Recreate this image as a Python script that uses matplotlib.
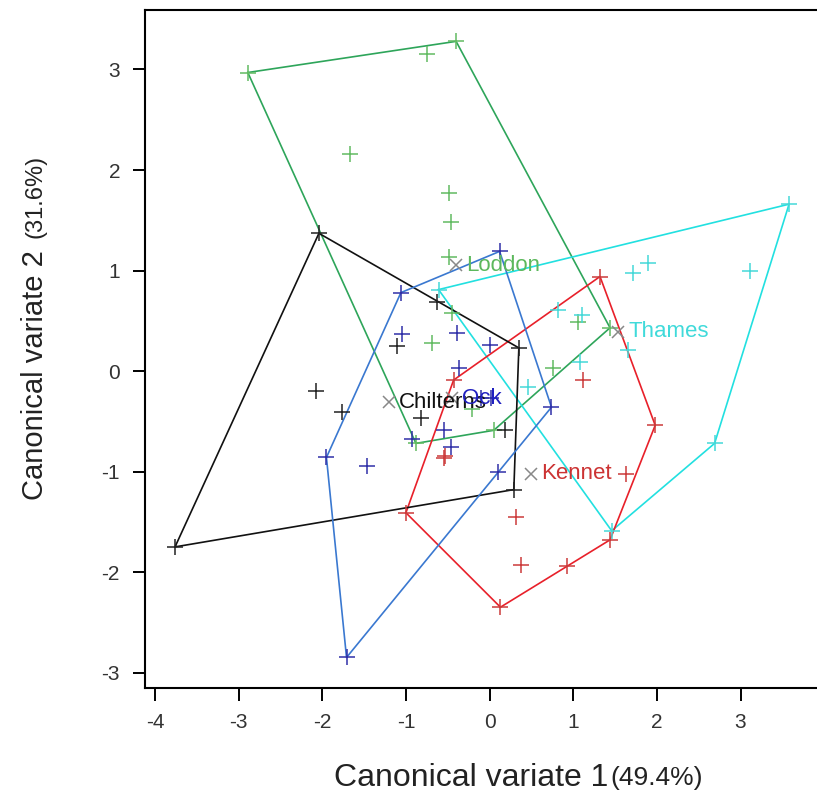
import matplotlib
matplotlib.use("Agg")
import matplotlib.pyplot as plt

plt.rcParams["font.family"] = ["Liberation Sans", "DejaVu Sans"]

# canonical variate scores per group (CV1, CV2)
loddon_x = [-2.89, -0.40, 1.44, 0.05, -0.88, -0.75, -1.67, -0.48, -0.46, -0.49,
            -0.45, -0.69, 0.76, 1.06, -0.21]
loddon_y = [2.97, 3.28, 0.43, -0.59, -0.72, 3.15, 2.16, 1.77, 1.48, 1.13,
            0.58, 0.28, 0.03, 0.49, -0.38]

thames_x = [-0.61, 3.58, 2.69, 1.46, 1.71, 1.89, 3.11, 1.65, 1.08, 0.46, 0.82, 1.10]
thames_y = [0.81, 1.66, -0.72, -1.59, 0.98, 1.07, 1.00, 0.21, 0.09, -0.16, 0.61, 0.56]

kennet_x = [1.32, 1.98, 1.44, 0.13, -1.00, -0.43, 1.63, 0.32, 0.37, 0.92, 1.12, -0.55, -0.53]
kennet_y = [0.94, -0.54, -1.68, -2.35, -1.41, -0.09, -1.02, -1.45, -1.93, -1.94, -0.09, -0.87, -0.85]

chilterns_x = [-2.04, 0.35, 0.29, -3.76, -2.07, -1.76, -0.82, -1.11, -0.63, 0.19]
chilterns_y = [1.37, 0.23, -1.18, -1.75, -0.20, -0.41, -0.47, 0.25, 0.69, -0.59]

ock_x = [0.12, 0.74, -1.71, -1.95, -1.06, -1.46, -1.05, -0.39, -0.37, -0.54,
         -0.46, -0.93, 0.01, 0.10, -0.10, 0.02]
ock_y = [1.19, -0.36, -2.85, -0.86, 0.78, -0.95, 0.37, 0.38, 0.03, -0.59,
         -0.76, -0.68, 0.26, -1.00, -0.27, -0.27]

# group means
group_names = ["Loddon", "Thames", "Kennet", "Chilterns", "Ock"]
mean_x = [-0.40, 1.54, 0.50, -1.20, -0.45]
mean_y = [1.05, 0.39, -1.02, -0.31, -0.27]

x_ticks = [-4, -3, -2, -1, 0, 1, 2, 3]
y_ticks = [-3, -2, -1, 0, 1, 2, 3]


def convex_hull(xs, ys):
    pts = sorted(set(zip(xs, ys)))

    def cross(o, a, b):
        return (a[0] - o[0]) * (b[1] - o[1]) - (a[1] - o[1]) * (b[0] - o[0])

    lower, upper = [], []
    for p in pts:
        while len(lower) >= 2 and cross(lower[-2], lower[-1], p) <= 0:
            lower.pop()
        lower.append(p)
    for p in reversed(pts):
        while len(upper) >= 2 and cross(upper[-2], upper[-1], p) <= 0:
            upper.pop()
        upper.append(p)
    hull = lower[:-1] + upper[:-1]
    hull.append(hull[0])
    return [p[0] for p in hull], [p[1] for p in hull]


groups = [
    (loddon_x, loddon_y, "#2ea55a", "#62bb62", "#5cb85c"),
    (thames_x, thames_y, "#22e0e0", "#45d8d8", "#40dada"),
    (kennet_x, kennet_y, "#e8202a", "#cc3a3a", "#cc3333"),
    (chilterns_x, chilterns_y, "#111111", "#222222", "#111111"),
    (ock_x, ock_y, "#3a78d0", "#3030a8", "#2020c0"),
]

fig = plt.figure(figsize=(8.17, 8.0), dpi=100)
ax = fig.add_axes([145 / 817, 112 / 800, (820 - 145) / 817, (688 - 10) / 800])

for (gx, gy, hull_col, pt_col, txt_col), name, mx, my in zip(groups, group_names, mean_x, mean_y):
    hx, hy = convex_hull(gx, gy)
    ax.plot(hx, hy, color=hull_col, lw=1.2, zorder=2)
    ax.plot(gx, gy, ls="none", marker="+", ms=11, mew=1.1, color=pt_col, zorder=3)
    ax.plot([mx], [my], ls="none", marker="x", ms=8, mew=1.1, color="#888888", zorder=4)
    ax.annotate(name, (mx, my), xytext=(7, 0), textcoords="offset points",
                va="center", ha="left", fontsize=16, color=txt_col, zorder=5)

ax.set_xlim(-4.119, 3.95)
ax.set_ylim(-3.154, 3.592)
ax.set_xticks(x_ticks)
ax.set_yticks(y_ticks)
ax.set_xticklabels([str(t) for t in x_ticks])
ax.set_yticklabels([str(t) for t in y_ticks])
ax.tick_params(direction="out", length=9, width=1.4, labelsize=15,
               labelcolor="#333333", pad=9)
for s in ax.spines.values():
    s.set_linewidth(1.5)

fig.text(608 / 817, 1 - 778 / 800, "Canonical variate 1", ha="right", va="center",
         fontsize=23, color="#222222")
fig.text(610 / 817, 1 - 778 / 800, "(49.4%)", ha="left", va="center",
         fontsize=19, color="#222222")
fig.text(35 / 817, 1 - 500 / 800, "Canonical variate 2", ha="center", va="bottom",
         rotation=90, fontsize=21, color="#222222")
fig.text(35 / 817, 1 - 238 / 800, "(31.6%)", ha="center", va="bottom",
         rotation=90, fontsize=17, color="#222222")

fig.savefig("out.png", dpi=100)
